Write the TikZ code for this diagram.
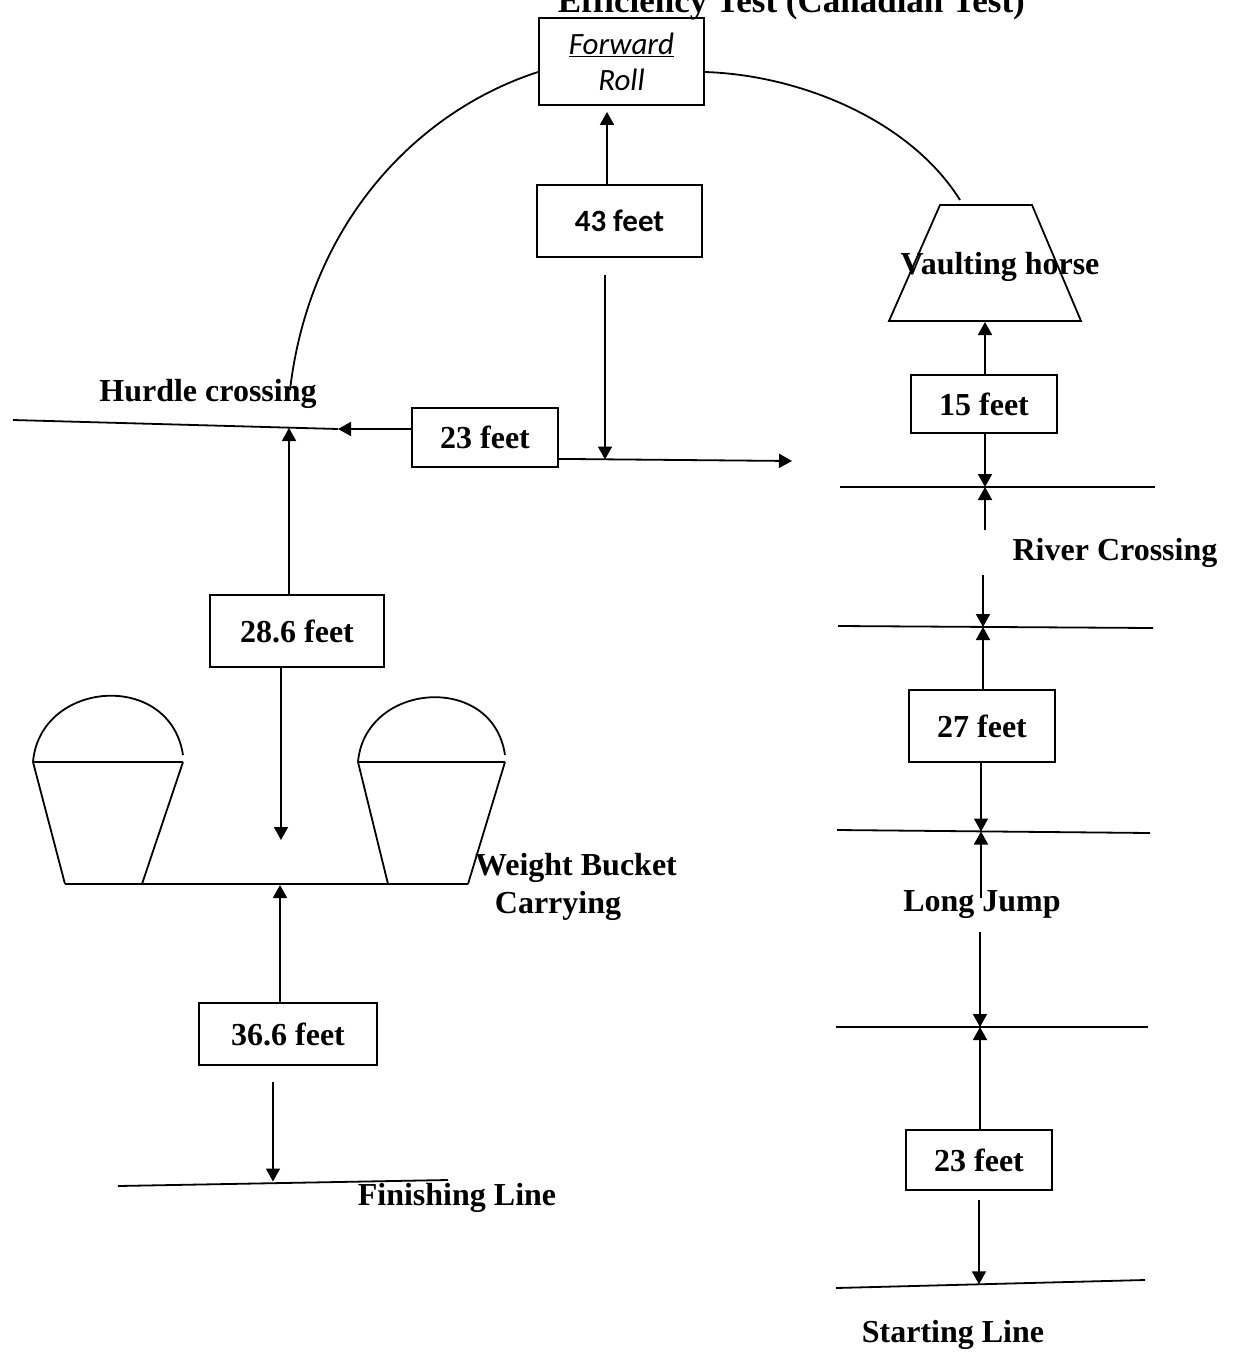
\documentclass[tikz,border=0pt]{standalone}
\usepackage{fontspec}
\setmainfont{Liberation Serif}
\newfontfamily\calib{Carlito}
\usetikzlibrary{arrows.meta,calc}
\newcommand\lblfont{\fontsize{32}{36}\selectfont\bfseries}
\tikzset{
  ln/.style={line width=1.8pt},
  fbox/.style={draw, line width=1.8pt, inner sep=0pt, font=\lblfont},
  arr/.style={line width=1.8pt, -{Triangle[length=13pt,width=14pt]}},
  lab/.style={font=\lblfont, inner sep=0pt}
}
\begin{document}
\begin{tikzpicture}[x=1pt,y=-1pt]
\useasboundingbox (0,0) rectangle (1234,1355);
% title (cut off at top, as in the source)
\node[anchor=base east, inner sep=0pt, font=\fontsize{35}{40}\selectfont\bfseries] (title) at (1025,12) {Efficiency Test (Canadian Test)};

% boxes
\node[fbox, minimum width=165pt, minimum height=87pt, align=center,
      font=\calib\itshape\fontsize{31}{36}\selectfont] (fr) at (621.5,61.5) {\underline{Forward}\\Roll};
\node[fbox, minimum width=165pt, minimum height=72pt, font=\calib\bfseries\fontsize{31}{36}\selectfont] (b43) at (619.5,221) {43 feet};
\node[fbox, minimum width=146pt, minimum height=59pt] (b23m) at (485,437.5) {23 feet};
\node[fbox, minimum width=174pt, minimum height=72pt] (b286) at (297,631) {28.6 feet};
\node[fbox, minimum width=178pt, minimum height=62pt] (b366) at (288,1034) {36.6 feet};
\node[fbox, minimum width=146pt, minimum height=58pt] (b15) at (984,404) {15 feet};
\node[fbox, minimum width=146pt, minimum height=72pt] (b27) at (982,726) {27 feet};
\node[fbox, minimum width=146pt, minimum height=60pt] (b23r) at (979,1160) {23 feet};

% labels
\node[lab] (hurdle) at (208,394) {Hurdle crossing};
\node[lab] (wb1) at (576,868) {Weight Bucket};
\node[lab] (wb2) at (558,906) {Carrying};
\node[lab] (finish) at (457,1198) {Finishing Line};
\node[lab] (vault) at (1000,267) {Vaulting horse};
\node[lab] (river) at (1115,553) {River Crossing};
\node[lab] (long) at (982,905) {Long Jump};
\node[lab] (start) at (953,1335) {Starting Line};

% curves from forward roll
\draw[ln] (fr.west |- 0,72) .. controls (420,110) and (310,220) .. (290,390);
\draw[ln] (fr.east |- 0,72) .. controls (800,75) and (910,120) .. (960,200);

% vaulting horse
\draw[ln] (940,205) -- (1032,205) -- (1081,321) -- (889,321) -- cycle;
\coordinate (vhb) at (985,322);

% hurdle line and middle arrows
\coordinate (h1) at (13,420);
\coordinate (hA) at (338,429);
\coordinate (hp) at (289,428);
\draw[ln] (h1) -- (hA);
\draw[arr] (b23m.west |- hA) -- (hA);
\coordinate (rS) at ($(b23m.south east)+(0,-9)$);
\coordinate (rE) at (792,461);
\draw[arr] (rS) -- (rE);
\coordinate (m43) at (605,459.5);
\coordinate (m43s) at (605,275);
\draw[arr] (m43s) -- (m43);
\coordinate (x43) at (607,0);
\draw[arr] (b43.north -| x43) -- ([yshift=-6pt]fr.south -| x43);

% left column
\draw[arr] (b286.north -| hp) -- (hp);
\coordinate (bk) at (281,840);
\draw[arr] (b286.south -| bk) -- (bk);

% buckets
\draw[ln] (33,762) -- (183,762);
\draw[ln] (33,762) -- (65,884);
\draw[ln] (183,762) -- (142,884);
\draw[ln] (33,762) .. controls (40,680) and (170,670) .. (183,755);
\draw[ln] (358,762) -- (505,762);
\draw[ln] (358,762) -- (388,884);
\draw[ln] (505,762) -- (468,884);
\draw[ln] (358,762) .. controls (365,682) and (493,672) .. (505,755);
\draw[ln] (65,884) -- (468,884);
\coordinate (bb) at (280,885);
\draw[arr] (b366.north -| bb) -- (bb);
\coordinate (fs) at (273,1082);
\coordinate (fl) at (273,1181.5);
\draw[arr] (fs) -- (fl);
\draw[ln] (118,1186) -- (448,1180);

% right column
\draw[arr] (b15.north -| vhb) -- (vhb);
\draw[ln] (840,487) -- (1155,487);
\coordinate (L1) at (985,487);
\draw[arr] (b15.south -| L1) -- (L1);
\coordinate (rc1) at (985,530);
\draw[arr] (rc1) -- (L1);
\draw[ln] (838,626) -- (1153,628);
\coordinate (L2) at (983,627);
\coordinate (rc2) at (983,575);
\draw[arr] (rc2) -- (L2);
\draw[arr] (b27.north -| L2) -- (L2);
\draw[ln] (837,830) -- (1150,833);
\coordinate (L3) at (981,831.5);
\draw[arr] (b27.south -| L3) -- (L3);
\coordinate (lj1) at (981,898);
\draw[arr] (lj1) -- (L3);
\draw[ln] (836,1027) -- (1148,1027);
\coordinate (L4) at (980,1027);
\coordinate (lj2) at (980,932);
\draw[arr] (lj2) -- (L4);
\draw[arr] (b23r.north -| L4) -- (L4);
\draw[ln] (836,1288) -- (1145,1280);
\coordinate (L5) at (979,1284.3);
\coordinate (st) at (979,1200);
\draw[arr] (st) -- (L5);
\end{tikzpicture}
\end{document}
